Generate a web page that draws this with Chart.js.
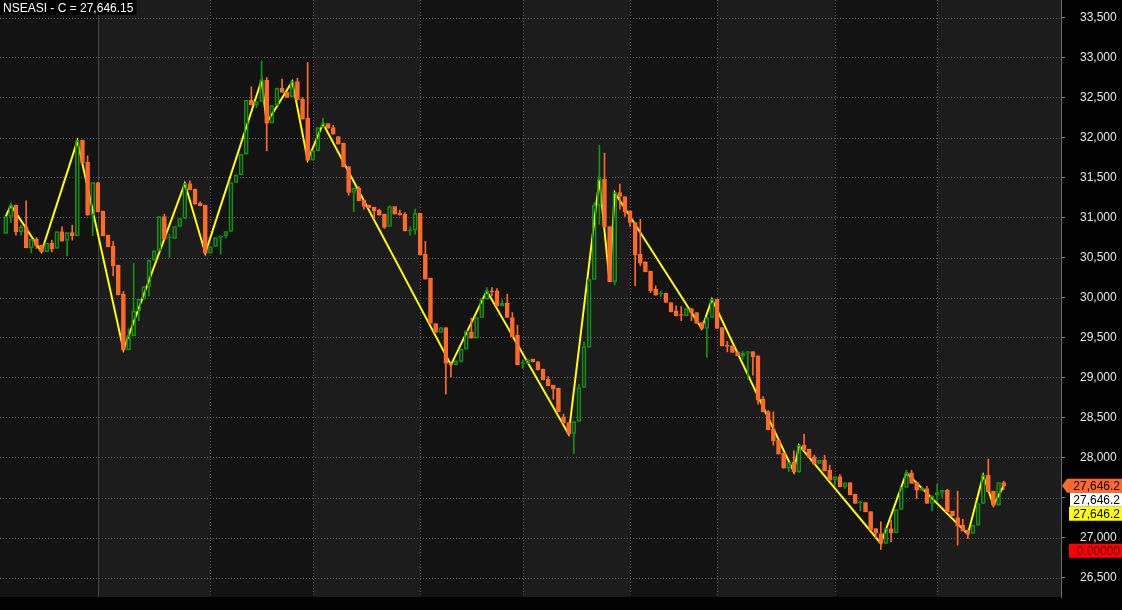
<!DOCTYPE html>
<html><head><meta charset="utf-8">
<script src="https://cdn.jsdelivr.net/npm/chart.js@4.4.0/dist/chart.umd.min.js"></script>
<style>html,body{margin:0;padding:0;background:#000;overflow:hidden}#wrap{width:1122px;height:610px}</style>
</head><body><div id="wrap"><canvas id="c" width="1122" height="610"></canvas></div>
<script>
const titleText = 'NSEASI - C = 27,646.15';
const openP = [30800,31012,31154,30821,30883,30621,30729,30654,30571,30679,30612,30825,30713,30812,30771,31967,31692,31029,31437,31079,30779,30642,30404,30042,29346,29521,29833,29979,30137,30467,30583,31012,30742,30737,30887,30988,31425,31354,31179,31154,30554,30637,30750,30771,30825,31437,31533,31792,32467,32408,32450,32717,32183,32400,32617,32567,32508,32700,32479,32242,31717,31833,32125,32175,32125,32013,31929,31637,31313,31367,31217,31154,31129,31092,31042,30888,31137,31054,31042,30833,30842,31054,30542,30242,29675,29562,29625,29179,29158,29200,29354,29571,29492,29750,29979,30083,30083,29896,29929,29750,29529,29175,29175,29229,29200,29104,28979,28904,28867,28508,28438,28300,28450,28875,29375,30225,31154,31479,30888,30196,31312,31262,31083,30937,30542,30446,30329,30104,30046,30054,29937,29833,29787,29771,29862,29812,29687,29612,29750,29979,29625,29404,29396,29321,29271,29304,29325,29271,28729,28575,28354,28221,28054,27867,27946,27821,28154,28104,28008,27925,27967,27842,27721,27762,27633,27688,27542,27433,27437,27325,27112,27050,26925,27112,27058,27350,27625,27808,27687,27590,27613,27425,27529,27562,27592,27329,27250,27154,27092,27050,27154,27425,27779,27579,27404,27687];
const highP = [31012,31179,31154,30905,31208,30729,30750,30654,30679,30717,30825,30883,30812,30904,31958,31967,31771,31437,31437,31079,30779,30700,30404,30075,29612,30425,29979,30137,30467,30583,31012,31042,30792,30887,30987,31425,31458,31354,31196,31154,30637,30750,30771,30825,31437,31533,31792,32467,32633,32450,32958,32750,32400,32617,32729,32567,32700,32742,32500,32938,31833,32125,32242,32175,32154,32013,31929,31637,31367,31387,31217,31154,31129,31104,31042,31150,31137,31092,31062,30883,31104,31054,30700,30242,29675,29625,29625,29179,29208,29354,29583,29742,29750,29979,30125,30125,30112,29971,30042,29812,29654,29221,29229,29229,29200,29104,29012,28904,28867,28542,28438,28450,28917,29446,30225,31187,31904,31804,30888,31312,31417,31262,31083,30937,30979,30446,30329,30146,30083,30054,29937,29896,29887,29862,29862,29812,29687,29750,29979,29979,29625,29450,29396,29321,29329,29325,29325,29271,28762,28587,28571,28221,28054,27937,28083,28154,28292,28104,28029,27967,28029,27904,27762,27787,27688,27688,27542,27458,27437,27325,27112,27196,27112,27217,27350,27625,27842,27842,27687,27625,27642,27521,27667,27592,27604,27329,27579,27229,27092,27154,27425,27779,27979,27579,27687,27704];
const lowP = [30800,30937,30779,30779,30883,30558,30612,30571,30571,30571,30612,30704,30521,30717,30771,31683,31029,30771,31071,30771,30633,30271,30033,29346,29346,29521,29708,29979,30021,30467,30583,30729,30500,30737,30887,30988,31346,31167,31146,30554,30554,30637,30542,30742,30825,31437,31533,31792,32408,32375,32450,31833,32183,32400,32563,32500,32508,32471,32229,31717,31717,31833,32125,32117,32042,31917,31633,31279,31071,31208,31104,31121,30983,31029,30862,30888,31042,31029,30833,30779,30792,30533,30229,29675,29562,29562,28792,29008,29158,29190,29354,29492,29492,29750,29979,30021,29896,29896,29750,29508,29158,29117,29175,29196,29096,28971,28896,28729,28571,28429,28292,28050,28450,28875,29375,30225,30917,30883,30196,30158,31104,31012,30887,30146,30396,30321,30062,30029,30012,29937,29821,29771,29712,29771,29712,29675,29612,29250,29750,29612,29396,29321,29312,29271,29229,28979,29029,28667,28571,28346,28154,28042,27867,27821,27821,27812,28092,28000,27917,27925,27833,27717,27646,27633,27612,27533,27425,27333,27321,27096,27000,26850,26925,26946,27058,27350,27625,27675,27487,27590,27425,27333,27462,27500,27321,27271,26904,27083,26987,27050,27154,27425,27571,27383,27404,27600];
const closeP = [31012,31154,30821,30883,30621,30729,30646,30571,30679,30604,30825,30704,30812,30771,31958,31683,31029,31437,31071,30771,30633,30396,30033,29346,29521,29833,29979,30137,30467,30583,31012,30729,30750,30887,30987,31425,31346,31167,31146,30554,30637,30750,30771,30825,31437,31533,31792,32467,32408,32450,32717,32183,32400,32617,32563,32500,32700,32471,32229,31717,31833,32125,32175,32117,32042,31917,31633,31313,31367,31208,31138,31121,31083,31029,30875,31137,31042,31029,30833,30842,31054,30533,30229,29675,29562,29625,29175,29158,29208,29354,29583,29492,29750,29979,30083,30071,29896,29929,29750,29508,29158,29183,29221,29196,29096,28971,28896,28854,28571,28429,28292,28450,28875,29388,30225,31154,31479,30883,30196,31312,31262,31071,30937,30529,30429,30321,30083,30029,30054,29937,29821,29771,29775,29862,29812,29675,29612,29750,29979,29612,29396,29387,29312,29271,29304,29325,29258,28717,28571,28346,28208,28042,27867,27937,27821,28154,28092,28000,27917,27967,27833,27717,27762,27633,27688,27533,27425,27437,27321,27096,27054,26925,27112,27058,27350,27625,27808,27675,27592,27610,27425,27521,27562,27592,27321,27271,27146,27083,27042,27154,27425,27779,27571,27404,27687,27646.15];
const monthStarts = [18,40,60,81,101,122,139,162,182];
const zigIdx = [0,1,7,14,23,35,39,50,51,56,59,62,87,94,110,116,118,119,136,138,154,155,171,176,188,191,193,195];
const zigVal = [31012,31154,30571,31958,29346,31425,30554,32717,32183,32700,31717,32175,29158,30083,28292,31479,30196,31312,29612,29979,27821,28154,26925,27808,27042,27779,27404,27646.15];
const yTickValues = [26500,27000,27500,28000,28500,29000,29500,30000,30500,31000,31500,32000,32500,33000,33500];
const hiddenTickLabels = [27500];
const tagTexts = ['27,646.2','27,646.2','27,646.2','0.00000'];
const tagFills = ['#ff6a2a','#ffffff','#ffff00','#ff0000'];
const tagTextColors = ['#000000','#000000','#000000','#5a0000'];

const UP = '#129412', DOWN = '#ff6a2a';
const idx = closeP.map((_, i) => i);
const isUp = idx.map(i => closeP[i] >= openP[i]);
const bodies = idx.map(i => ({x: i, y: [openP[i], closeP[i]]}));
const upperW = idx.map(i => ({x: i, y: [Math.max(openP[i], closeP[i]), highP[i]]}));
const lowerW = idx.map(i => ({x: i, y: [lowP[i], Math.min(openP[i], closeP[i])]}));
const candleColors = idx.map(i => isUp[i] ? UP : DOWN);
const FONT = 'Arial, "Liberation Sans", sans-serif';

const bgPlugin = {
  id: 'bg',
  beforeDraw(chart) {
    const {ctx, chartArea: a, scales: {x, y}} = chart;
    ctx.save();
    ctx.fillStyle = '#000';
    ctx.fillRect(0, 0, chart.width, chart.height);
    const edges = [a.left, ...monthStarts.map(m => x.getPixelForValue(m)), a.right];
    for (let k = 0; k < edges.length - 1; k++) {
      ctx.fillStyle = k % 2 ? '#1c1c1c' : '#131313';
      ctx.fillRect(edges[k], a.top, edges[k + 1] - edges[k], a.bottom - a.top);
    }
    ctx.lineWidth = 1;
    ctx.strokeStyle = '#555';
    ctx.setLineDash([1, 2]);
    y.ticks.forEach(t => {
      const py = Math.round(y.getPixelForValue(t.value)) + 0.5;
      ctx.beginPath(); ctx.moveTo(a.left, py); ctx.lineTo(a.right, py); ctx.stroke();
    });
    monthStarts.forEach((m, k) => {
      const px = Math.round(x.getPixelForValue(m)) + 0.5;
      if (k === 0) { ctx.setLineDash([]); ctx.strokeStyle = '#484848'; }
      else { ctx.setLineDash([1, 2]); ctx.strokeStyle = '#555'; }
      ctx.beginPath(); ctx.moveTo(px, a.top); ctx.lineTo(px, a.bottom); ctx.stroke();
    });
    ctx.restore();
  },
  afterDraw(chart) {
    const {ctx, chartArea: a, scales: {y}} = chart;
    ctx.save();
    ctx.font = '12px ' + FONT;
    const tw = ctx.measureText(titleText).width;
    ctx.fillStyle = '#000';
    ctx.fillRect(0, 0, tw + 6, 15);
    ctx.fillStyle = '#ffffff';
    ctx.textBaseline = 'alphabetic';
    ctx.textAlign = 'left';
    ctx.fillText(titleText, 3, 12);
    const y0 = y.getPixelForValue(closeP[closeP.length - 1]);
    const centers = [y0, y0 + 14, y0 + 28, y0 + 65];
    const lefts = [1067, 1070, 1069, 1069];
    ctx.textAlign = 'right';
    ctx.textBaseline = 'middle';
    centers.forEach((cy, k) => {
      ctx.fillStyle = tagFills[k];
      ctx.beginPath();
      if (k === 0) {
        ctx.moveTo(a.right + 1, cy);
        ctx.lineTo(lefts[k], cy - 7);
        ctx.lineTo(1122, cy - 7);
        ctx.lineTo(1122, cy + 7);
        ctx.lineTo(lefts[k], cy + 7);
        ctx.closePath();
      } else {
        ctx.rect(lefts[k], cy - 7, 1122 - lefts[k], 14);
      }
      ctx.fill();
      ctx.fillStyle = tagTextColors[k];
      ctx.fillText(tagTexts[k], 1120, cy + 1);
    });
    ctx.restore();
  }
};

new Chart(document.getElementById('c'), {
  type: 'bar',
  data: {
    datasets: [
      { type: 'line', data: zigIdx.map((v, k) => ({x: v, y: zigVal[k]})), borderColor: '#ffff00', borderWidth: 2, pointRadius: 0, tension: 0, order: 10 },
      { data: upperW, backgroundColor: candleColors, borderWidth: 0, barThickness: 1, grouped: false, order: 3 },
      { data: lowerW, backgroundColor: candleColors, borderWidth: 0, barThickness: 1, grouped: false, order: 3 },
      { data: bodies, backgroundColor: idx.map(i => isUp[i] ? 'rgba(0,0,0,0)' : DOWN), borderColor: candleColors, borderWidth: 1, borderSkipped: false, barThickness: 4, minBarLength: 1, grouped: false, order: 1 }
    ]
  },
  options: {
    responsive: false,
    animation: false,
    devicePixelRatio: 1,
    layout: { padding: { left: 0, right: 0, top: 0, bottom: 13 } },
    plugins: { legend: { display: false }, tooltip: { enabled: false }, title: { display: false } },
    scales: {
      x: { type: 'linear', min: -1.114, max: 206.2, offset: false, display: false, grid: { display: false } },
      y: {
        position: 'right', min: 26256.25, max: 33718.75,
        afterBuildTicks(s) { s.ticks = yTickValues.map(v => ({value: v})); },
        afterFit(s) { s.width = 61; s.paddingTop = 0; s.paddingBottom = 0; },
        ticks: {
          color: '#e8e8e8', padding: 15, crossAlign: 'near',
          font: { family: FONT, size: 12 },
          callback: v => hiddenTickLabels.includes(v) ? '' : v.toLocaleString('en-US')
        },
        grid: { drawOnChartArea: false, drawTicks: true, tickLength: 4, tickColor: '#8a8a8a', color: '#8a8a8a' },
        border: { display: true, color: '#6e6e6e', width: 1 }
      }
    }
  },
  plugins: [bgPlugin]
});
</script>
</body></html>
